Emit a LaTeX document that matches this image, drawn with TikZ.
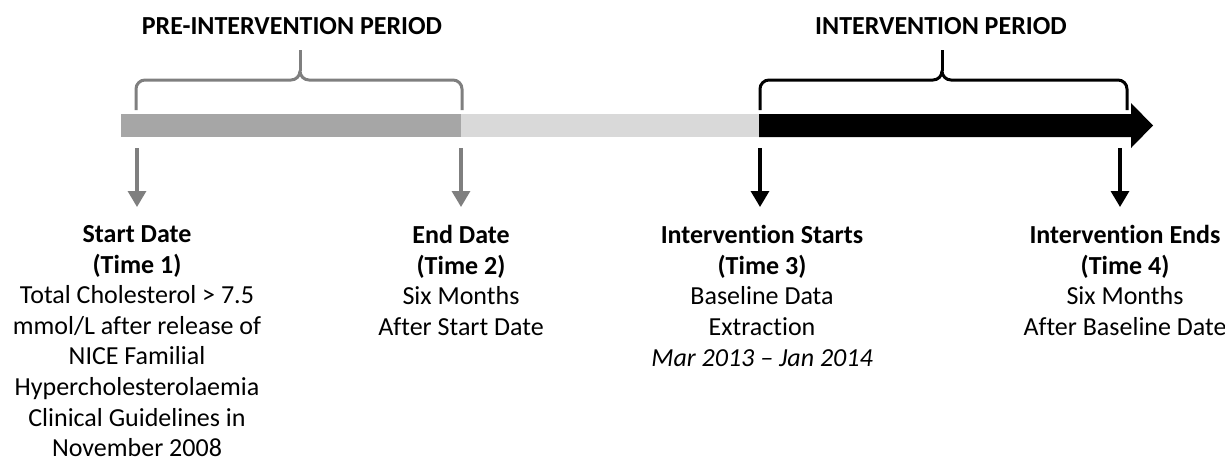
\documentclass[tikz,border=0pt]{standalone}
\usepackage{fontspec}
\setmainfont{Carlito}[Ligatures=CommonOff]
\usetikzlibrary{arrows.meta,positioning,calc}

\definecolor{bardark}{RGB}{166,166,166}
\definecolor{barlight}{RGB}{217,217,217}
\definecolor{markgray}{RGB}{127,127,127}

\tikzset{
    gbrace/.style={draw=markgray, line width=1.5pt, line join=round},
    kbrace/.style={draw=black, line width=1.5pt, line join=round},
    garrow/.style={draw=markgray, line width=1.6pt, -{Triangle[width=9pt,length=8pt]}, shorten >=9pt},
    karrow/.style={draw=black, line width=1.6pt, -{Triangle[width=9pt,length=8pt]}, shorten >=9pt},
    timetext/.style={align=center, anchor=north, inner sep=0pt, font=\fontsize{13}{15.3}\selectfont},
    periodtitle/.style={inner sep=0pt, font=\fontsize{13}{15}\selectfont\bfseries}
}

\begin{document}
\begin{tikzpicture}[x=0.5pt, y=-0.5pt]
        \useasboundingbox (0,0) rectangle (1225,462);

        \node[periodtitle] (pre_title) at (292, 26) {PRE-INTERVENTION PERIOD};
        \node[periodtitle] (int_title) at (941, 26) {INTERVENTION PERIOD};

        % timeline bar
        \fill[bardark] (121,114) rectangle (461,137);
        \fill[barlight] (461,114) rectangle (759,137);
        \fill[black] (759,114) -- (1131,114) -- (1131,103) -- (1153,125.5) -- (1131,148) -- (1131,137) -- (759,137) -- cycle;

        \draw[gbrace] (136,110) -- (136,89) to[out=90,in=180] (145,80) -- (291,80) to[out=0,in=-90] (300,71) to[out=-90,in=180] (309,80) -- (453,80) to[out=0,in=90] (462,89) -- (462,110);
        \draw[gbrace] (300,71) -- (300,50);
        \draw[kbrace] (760,110) -- (760,89) to[out=90,in=180] (769,80) -- (933,80) to[out=0,in=-90] (942,71) to[out=-90,in=180] (951,80) -- (1118,80) to[out=0,in=90] (1127,89) -- (1127,110);
        \draw[kbrace] (942,71) -- (942,50);

        \coordinate (t1) at (137,148);
        \coordinate (t2) at (461,148);
        \coordinate (t3) at (760,148);
        \coordinate (t4) at (1120,148);

        \node[timetext] (start_date) at (137, 225) {\textbf{Start Date}\\\textbf{(Time 1)}\\Total Cholesterol > 7.5\\mmol/L after release of\\NICE Familial\\Hypercholesterolaemia\\Clinical Guidelines in\\November 2008};
        \node[timetext] (end_date) at (461, 225) {\textbf{End Date}\\\textbf{(Time 2)}\\Six Months\\After Start Date};
        \node[timetext] (int_start) at (762, 225) {\textbf{Intervention Starts}\\\textbf{(Time 3)}\\Baseline Data\\Extraction\\\textit{Mar 2013 -- Jan 2014}};
        \node[timetext] (int_end) at (1125, 225) {\textbf{Intervention Ends}\\\textbf{(Time 4)}\\Six Months\\After Baseline Date};

        \draw[garrow] (t1) -- (t1 |- start_date.north);
        \draw[garrow] (t2) -- (t2 |- end_date.north);
        \draw[karrow] (t3) -- (t3 |- int_start.north);
        \draw[karrow] (t4) -- (t4 |- int_end.north);
\end{tikzpicture}
\end{document}
